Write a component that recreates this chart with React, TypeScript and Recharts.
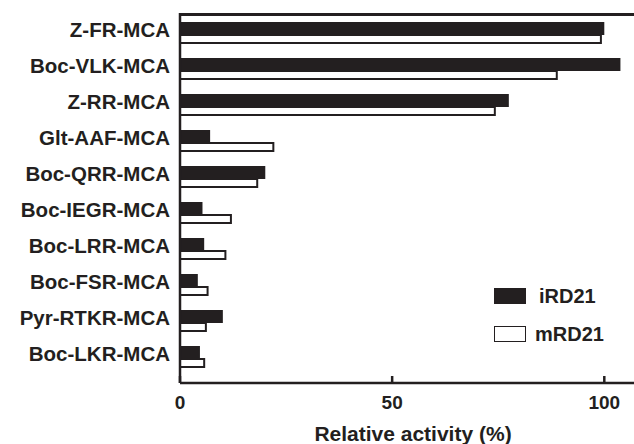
import { BarChart, Bar, XAxis, YAxis } from "recharts"

const substrates = [
  "Z-FR-MCA",
  "Boc-VLK-MCA",
  "Z-RR-MCA",
  "Glt-AAF-MCA",
  "Boc-QRR-MCA",
  "Boc-IEGR-MCA",
  "Boc-LRR-MCA",
  "Boc-FSR-MCA",
  "Pyr-RTKR-MCA",
  "Boc-LKR-MCA",
]

const iRD21 = [100, 103.8, 77.5, 7.1, 20.1, 5.3, 5.7, 4.2, 10.1, 4.7]
const mRD21 = [99.2, 88.8, 74.2, 22.0, 18.2, 12.0, 10.7, 6.5, 6.1, 5.7]

const xTicks = [0, 50, 100]

const ink = "#231f20"
const font = "'Liberation Sans', Arial, sans-serif"

const data = substrates.map((name, i) => ({
  name,
  iRD21: iRD21[i],
  mRD21: mRD21[i],
}))

// legend sits inside the plot, lower right
function LegendBox() {
  const row = (filled: boolean, label: string) => (
    <div style={{ display: "flex", alignItems: "center", height: 38 }}>
      <div
        style={{
          width: 30,
          height: 14,
          background: filled ? ink : "#fff",
          border: `1.5px solid ${ink}`,
          marginRight: filled ? 13 : 9,
        }}
      />
      <span style={{ fontSize: 20, fontWeight: 700, color: ink, fontFamily: font }}>
        {label}
      </span>
    </div>
  )
  return (
    <div style={{ position: "absolute", left: 494, top: 277 }}>
      {row(true, "iRD21")}
      {row(false, "mRD21")}
    </div>
  )
}

export default function App() {
  return (
    <div style={{ position: "absolute", left: 0, top: 0, width: 634, height: 444, background: "#fff" }}>
      {/* top frame edge of the plot box */}
      <div style={{ position: "absolute", left: 179, top: 12.5, width: 455, height: 3, background: ink }} />
      <BarChart
        width={634}
        height={444}
        data={data}
        layout="vertical"
        margin={{ top: 13, right: 0, bottom: 0, left: 0 }}
        barGap={0}
      >
        <XAxis
          type="number"
          domain={[0, 107]}
          ticks={xTicks}
          height={61}
          axisLine={{ stroke: ink, strokeWidth: 2.5 }}
          tickLine={{ stroke: ink, strokeWidth: 2.5 }}
          tickSize={-7}
          tickMargin={20}
          tick={{ fill: ink, fontSize: 19, fontWeight: 700, fontFamily: font }}
          label={{
            value: "Relative activity (%)",
            position: "insideBottom",
            offset: 3,
            dx: 6,
            fill: ink,
            fontSize: 21,
            fontWeight: 700,
            fontFamily: font,
          }}
        />
        <YAxis
          type="category"
          dataKey="name"
          width={180}
          padding={{ top: 1, bottom: 9 }}
          axisLine={{ stroke: ink, strokeWidth: 2.5 }}
          tickLine={false}
          tickSize={0}
          tickMargin={10}
          interval={0}
          tick={{ fill: ink, fontSize: 20.5, fontWeight: 700, fontFamily: font, dy: -2 }}
        />
        <Bar dataKey="iRD21" barSize={13} fill={ink} isAnimationActive={false} />
        <Bar
          dataKey="mRD21"
          barSize={8}
          fill="#fff"
          stroke={ink}
          strokeWidth={2}
          isAnimationActive={false}
        />
      </BarChart>
      <LegendBox />
    </div>
  )
}
